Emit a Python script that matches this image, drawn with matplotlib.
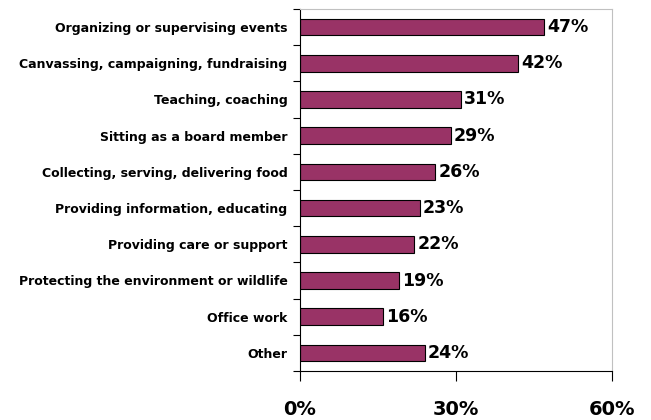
import matplotlib
matplotlib.use("Agg")
import matplotlib.pyplot as plt

categories = [
    "Organizing or supervising events",
    "Canvassing, campaigning, fundraising",
    "Teaching, coaching",
    "Sitting as a board member",
    "Collecting, serving, delivering food",
    "Providing information, educating",
    "Providing care or support",
    "Protecting the environment or wildlife",
    "Office work",
    "Other",
]
values = [47, 42, 31, 29, 26, 23, 22, 19, 16, 24]
xticks = [0, 30, 60]
xtick_labels = ["0%", "30%", "60%"]

fig = plt.figure(figsize=(6.51, 4.2), dpi=100)
ax = fig.add_axes([300 / 651, 1 - 371 / 420, 312 / 651, 362 / 420])

n = len(categories)
ypos = list(range(n))
ax.barh(ypos, values, height=0.46, color="#993366", edgecolor="black", linewidth=0.8)

for y, v in zip(ypos, values):
    ax.text(v + 0.6, y, f"{v}%", va="center", ha="left", fontsize=12.5,
            fontweight="bold", color="black")

ax.set_xlim(0, 60)
ax.set_ylim(n - 0.5, -0.5)
ax.set_xticks(xticks)
ax.set_xticklabels(xtick_labels, fontsize=14, fontweight="bold")
ax.set_yticks(ypos)
ax.set_yticklabels(categories, fontsize=9.0, fontweight="bold")
ax.tick_params(axis="y", length=0, pad=9)
ax.tick_params(axis="x", length=7, width=0.8, direction="out", pad=14)

# category separators on the left axis
ax.set_yticks([i - 0.5 for i in range(n + 1)], minor=True)
ax.tick_params(axis="y", which="minor", length=5, width=0.8, direction="out")

for s in ("left", "bottom"):
    ax.spines[s].set_color("black")
    ax.spines[s].set_linewidth(0.8)
for s in ("top", "right"):
    ax.spines[s].set_color("#c0c0c0")
    ax.spines[s].set_linewidth(0.8)

fig.savefig("out.png", dpi=100)
